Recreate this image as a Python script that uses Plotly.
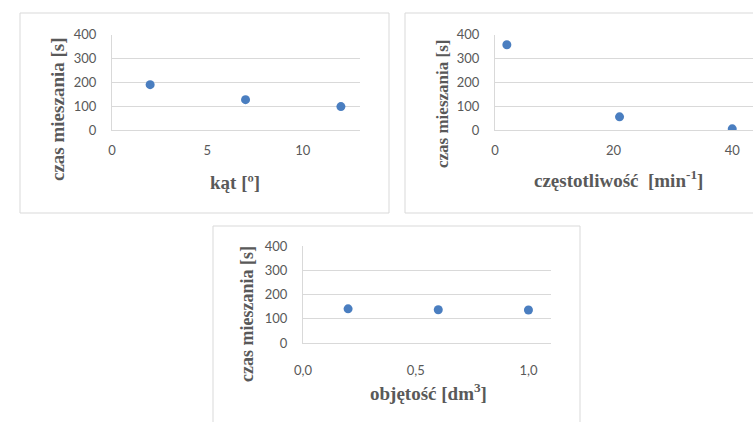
import plotly.graph_objects as go

W, H = 753, 422

# Data
kat_x = [2, 7, 12]
kat_y = [190, 127, 98]
freq_x = [2, 21, 40]
freq_y = [357, 55, 5]
vol_x = [0.2, 0.6, 1.0]
vol_y = [141, 137, 136]

y_ticks = [0, 100, 200, 300, 400]
kat_ticks = [0, 5, 10]
freq_ticks = [0, 20, 40]
vol_ticks = [0.0, 0.5, 1.0]
vol_ticklabels = ["0,0", "0,5", "1,0"]

y_title = "czas mieszania [s]"
x_titles = ["kąt [º]", "częstotliwość\u00a0 [min<sup>-1</sup>]", "objętość [dm<sup>3</sup>]"]

MARKER = "#4a7ec0"
GRID = "#d9d9d9"
TXT = "#595959"
TICKFONT = dict(family="Lato, Open Sans, sans-serif", size=13, color=TXT)
SERIF = "Liberation Serif, Times New Roman, serif"


def px_x(p):
    return p / W


def px_y(p):
    return 1 - p / H


fig = go.Figure()

fig.add_trace(go.Scatter(x=kat_x, y=kat_y, mode="markers", xaxis="x", yaxis="y",
                         marker=dict(color=MARKER, size=9), showlegend=False))
fig.add_trace(go.Scatter(x=freq_x, y=freq_y, mode="markers", xaxis="x2", yaxis="y2",
                         marker=dict(color=MARKER, size=9), showlegend=False))
fig.add_trace(go.Scatter(x=vol_x, y=vol_y, mode="markers", xaxis="x3", yaxis="y3",
                         marker=dict(color=MARKER, size=9), showlegend=False))

common_x = dict(showgrid=False, zeroline=False, showline=True, linecolor=GRID, linewidth=1,
                ticks="outside", tickcolor="rgba(0,0,0,0)", tickfont=TICKFONT, fixedrange=True,
                automargin=False)
common_y = dict(showgrid=True, gridcolor=GRID, gridwidth=1, zeroline=False, showline=True,
                linecolor=GRID, linewidth=1, ticks="outside", tickcolor="rgba(0,0,0,0)",
                ticklen=12, tickfont=TICKFONT, range=[0, 400], tickvals=y_ticks, fixedrange=True,
                automargin=False)

fig.update_layout(
    template="none",
    width=W, height=H,
    margin=dict(l=0, r=0, t=0, b=0, pad=0),
    paper_bgcolor="white", plot_bgcolor="white",
    xaxis=dict(common_x, domain=[px_x(112), px_x(360)], range=[0, 13], tickvals=kat_ticks,
               ticklen=8, anchor="y"),
    yaxis=dict(common_y, domain=[px_y(130), px_y(34.5)], anchor="x"),
    xaxis2=dict(common_x, domain=[px_x(495), 1.0], range=[0, 43.5], tickvals=freq_ticks,
                ticklen=8, anchor="y2"),
    yaxis2=dict(common_y, domain=[px_y(130), px_y(34.5)], anchor="x2"),
    xaxis3=dict(common_x, domain=[px_x(303), px_x(551)], range=[0, 1.1], tickvals=vol_ticks,
                ticktext=vol_ticklabels, ticklen=15, anchor="y3"),
    yaxis3=dict(common_y, domain=[px_y(343), px_y(246)], anchor="x3"),
)

# panel borders
borders = [(20, 13, 389, 213), (405, 13, 760, 213), (213, 226, 580, 430)]
for x0, y0, x1, y1 in borders:
    fig.add_shape(type="rect", xref="paper", yref="paper",
                  x0=px_x(x0), x1=px_x(x1), y0=px_y(y1), y1=px_y(y0),
                  line=dict(color=GRID, width=1), fillcolor="rgba(0,0,0,0)", layer="below")

# axis titles
ytitle_pos = [(57, 109, 19), (442, 104, 17), (247, 314, 18)]
xtitle_pos = [(235, 182, 19), (618, 179, 19), (428, 392, 19)]
for (x, y, s) in ytitle_pos:
    fig.add_annotation(text=f"<b>{y_title}</b>", xref="paper", yref="paper",
                       x=px_x(x), y=px_y(y), xanchor="center", yanchor="middle",
                       textangle=-90, showarrow=False,
                       font=dict(family=SERIF, size=s, color=TXT))
for (x, y, s), t in zip(xtitle_pos, x_titles):
    fig.add_annotation(text=f"<b>{t}</b>", xref="paper", yref="paper",
                       x=px_x(x), y=px_y(y), xanchor="center", yanchor="middle",
                       showarrow=False, font=dict(family=SERIF, size=s, color=TXT))

fig.write_html(
    "out.html",
    config={"displayModeBar": False},
    post_script="document.body.style.margin='0';document.body.style.overflow='hidden';",
)
